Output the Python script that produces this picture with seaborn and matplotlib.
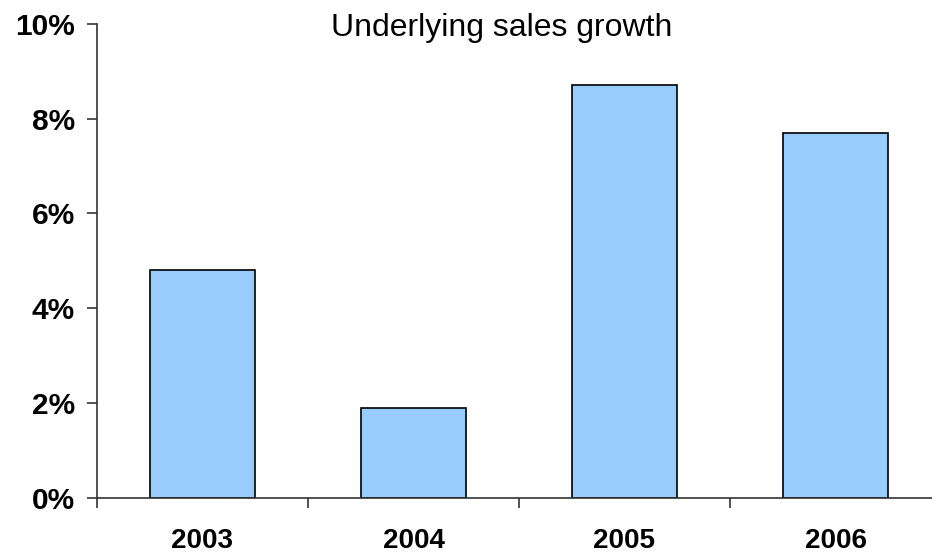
import matplotlib
matplotlib.use('Agg')
import matplotlib.pyplot as plt
import seaborn as sns
import pandas as pd
from matplotlib.ticker import FixedLocator

# Données
years = ['2003', '2004', '2005', '2006']
growth = [4.8, 1.9, 8.7, 7.7]
y_ticks = [0, 2, 4, 6, 8, 10]
y_labels = ['0%', '2%', '4%', '6%', '8%', '10%']
title = 'Underlying sales growth'

df = pd.DataFrame({'Year': years, 'Growth': growth})

sns.set_style('white')
plt.rcParams['font.family'] = ['Liberation Sans', 'DejaVu Sans']
plt.rcParams['text.color'] = 'black'
plt.rcParams['xtick.color'] = 'black'
plt.rcParams['ytick.color'] = 'black'

W, H = 932, 553
fig = plt.figure(figsize=(W / 100, H / 100), dpi=100)
left, right, top, bottom = 97, 941, 23.7, 497.7
ax = fig.add_axes([left / W, (H - bottom) / H, (right - left) / W, (bottom - top) / H])

sns.barplot(data=df, x='Year', y='Growth', color='#99CCFF', edgecolor='black',
            linewidth=1.2, width=0.5, saturation=1, ax=ax)

ax.set_xlim(-0.5, 3.5)
ax.set_ylim(0, 10)
ax.set_yticks(y_ticks)
ax.set_yticklabels(y_labels, fontsize=21.5, fontweight='bold', color='black')
ax.set_xticks(range(len(years)))
ax.set_xticklabels(years, fontsize=20, fontweight='bold', color='black')
ax.xaxis.set_minor_locator(FixedLocator([-0.5, 0.5, 1.5, 2.5, 3.5]))
ax.tick_params(axis='x', which='major', length=0, pad=22)
ax.tick_params(axis='x', which='minor', length=7, width=1.2, color='#333333', direction='out', bottom=True)
ax.tick_params(axis='y', length=7, width=1.2, color='#333333', direction='out', left=True, pad=9)
ax.set_xlabel('')
ax.set_ylabel('')
sns.despine(ax=ax, top=True, right=True)
for s in ['left', 'bottom']:
    ax.spines[s].set_color('#333333')
    ax.spines[s].set_linewidth(1.2)

fig.text(502 / W, 1 - 28 / H, title, fontsize=23, ha='center', va='center', color='black')

fig.savefig('out.png', dpi=100)
